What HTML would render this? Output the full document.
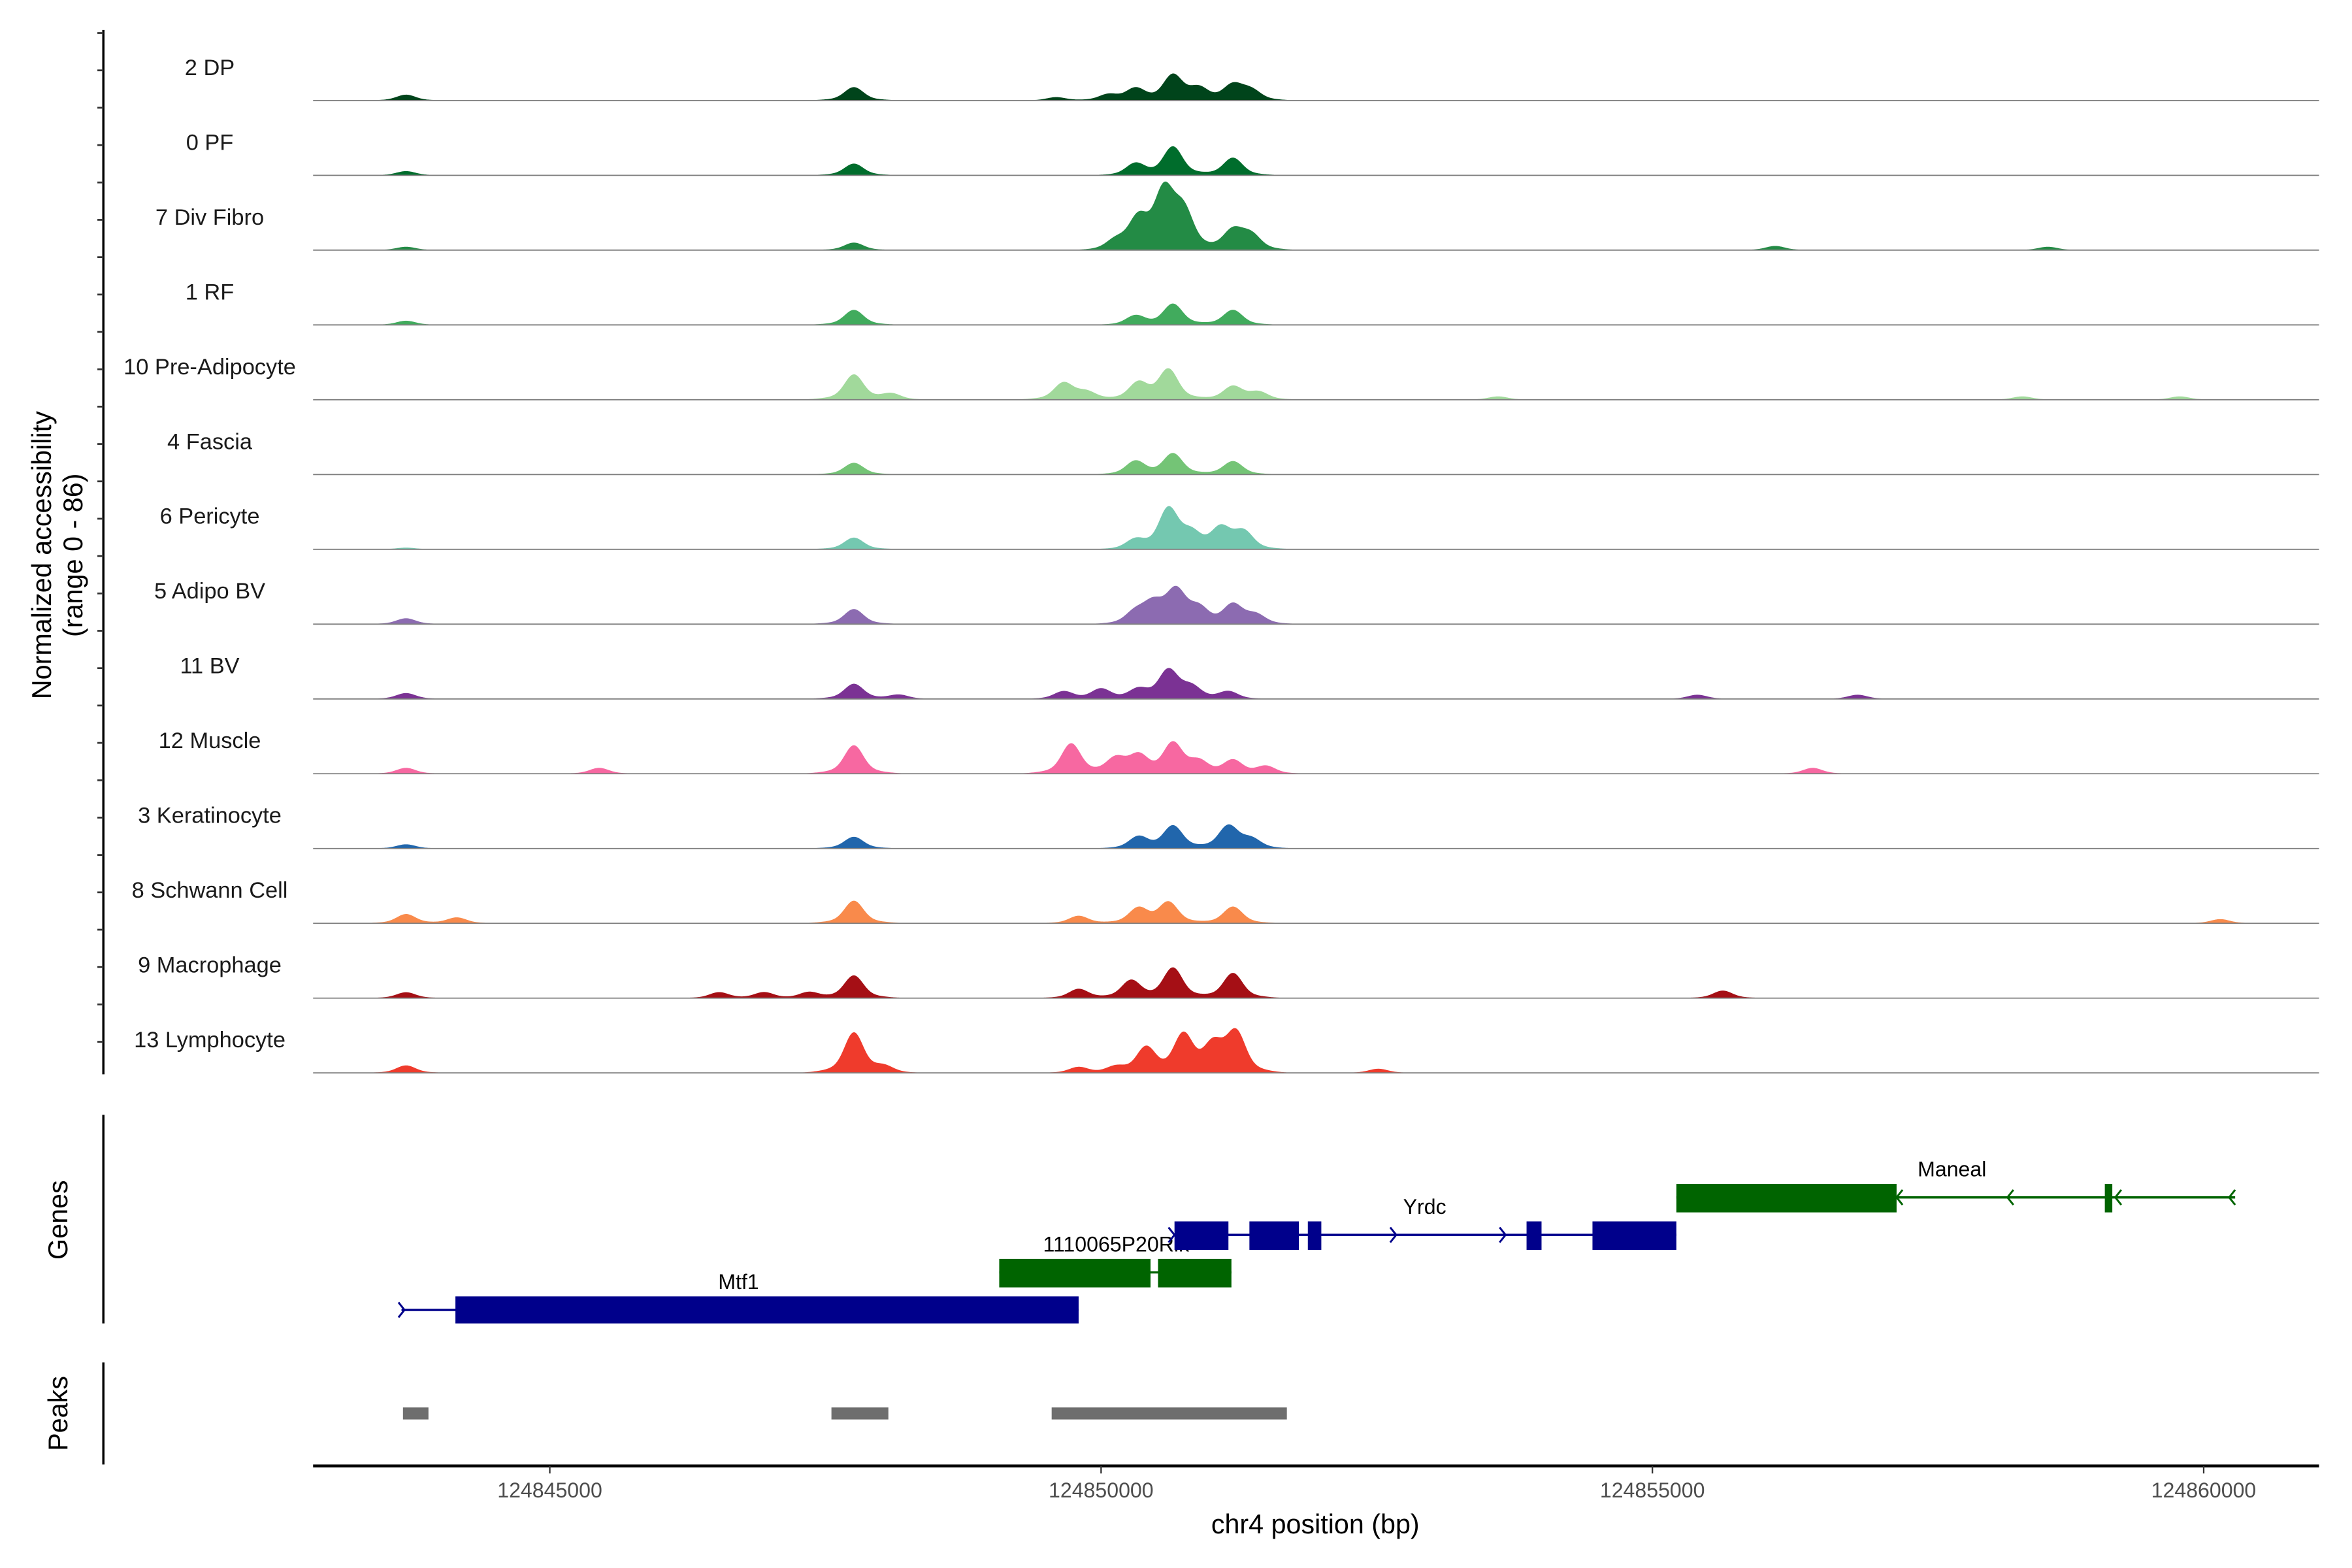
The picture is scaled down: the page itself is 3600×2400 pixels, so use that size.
<!DOCTYPE html>
<html><head><meta charset="utf-8">
<style>
html,body{margin:0;padding:0;background:#fff;}
svg{display:block;font-family:"Liberation Sans",Arial,sans-serif;}
</style></head>
<body>
<svg id="chart" width="3600" height="2400" viewBox="0 0 1570 1045" preserveAspectRatio="none" xmlns="http://www.w3.org/2000/svg">
  <g id="tracks"></g>
  <g id="genes"></g>
  <g id="peaks"></g>
  <g id="axes"></g>
</svg>
<script>
const NS="http://www.w3.org/2000/svg";
const trackNames=["2 DP","0 PF","7 Div Fibro","1 RF","10 Pre-Adipocyte","4 Fascia","6 Pericyte","5 Adipo BV","11 BV","12 Muscle","3 Keratinocyte","8 Schwann Cell","9 Macrophage","13 Lymphocyte"];
const trackColors=["#00441b","#006d2c","#238b45","#41ab5d","#a1d99b","#74c476","#74c8b0","#8c6bb1","#7b3294","#f768a1","#2166ac","#f98a4b","#a50f15","#ef3b2c"];
const peakPos=[
 [124843696,124847758,124849592,124850068,124850312,124850652,124850883,124851196,124851359],
 [124843696,124847758,124850312,124850652,124851196],
 [124843696,124847758,124850136,124850340,124850571,124850747,124851196,124851359,124856114,124858587],
 [124843696,124847758,124850312,124850652,124851196],
 [124847758,124848098,124849660,124849864,124850340,124850611,124851196,124851427,124853601,124858356,124859783],
 [124847758,124850312,124850652,124851196],
 [124843696,124847758,124850312,124850611,124850815,124851087,124851291],
 [124843696,124847758,124850312,124850476,124850679,124850883,124851196,124851400],
 [124843696,124847758,124848166,124849660,124850000,124850340,124850611,124850815,124851155,124855408,124856861],
 [124843696,124847758,124845448,124849728,124850136,124850340,124850652,124850883,124851196,124851495,124856454],
 [124843696,124847758,124850340,124850652,124851155,124851359],
 [124843696,124847758,124844158,124849796,124850340,124850611,124851196,124860150],
 [124843696,124847758,124846535,124846943,124847351,124849796,124850272,124850652,124851196,124855639],
 [124843696,124847758,124848030,124849796,124850136,124850408,124850747,124851019,124851223,124852514]
];
const peakVal=[
 [7,16,4,7,14,30,14,18,12],
 [5,14,14,34,21],
 [4,9,11,36,68,45,23,18,5,4],
 [5,18,11,25,18],
 [30,7,20,9,20,36,16,9,4,4,4],
 [14,16,25,16],
 [2,14,11,48,18,25,21],
 [7,18,14,23,39,18,23,11],
 [7,18,5,9,12,11,34,14,9,5,5],
 [7,34,7,36,18,21,36,14,16,9,7],
 [5,14,14,27,27,11],
 [11,27,7,9,18,25,20,5],
 [7,27,7,7,7,11,21,36,30,9],
 [9,48,7,7,7,30,45,32,48,5]
];
const tickVals=[124845000,124850000,124855000,124860000];
const tickLabels=["124845000","124850000","124855000","124860000"];
const X0=209,X1=1548;
function xs(bp){return 367+(bp-124845000)*368/5000;}
function mk(tag,attrs,parent,text){const e=document.createElementNS(NS,tag);for(const k in attrs)e.setAttribute(k,attrs[k]);if(text!==undefined)e.textContent=text;parent.appendChild(e);return e;}
const gT=document.getElementById('tracks');
const SIG=80, H=48/86;
trackNames.forEach((name,i)=>{
  const base=67+i*49.85;
  const g=mk('g',{},gT);
  
  
  const lab=mk('text',{x:140,y:base-17,'font-size':15,'text-anchor':'middle',fill:'#1a1a1a'},g,name);
  
  
  let d='M'+X0+','+base;
  for(let x=X0;x<=X1;x+=0.5){
    const bp=124845000+(x-367)*5000/368;
    let v=0;
    peakPos[i].forEach((p,k)=>{const z=(bp-p)/SIG;v+=peakVal[i][k]*(0.8*Math.exp(-0.5*z*z)+0.2*Math.exp(-0.5*z*z/6));});
    if(v<0.3)v=0;
    d+=' L'+x.toFixed(1)+','+(base-v*H).toFixed(2);
  }
  d+=' L'+X1+','+base+' Z';
  const a=mk('path',{d:d,fill:trackColors[i]},g);
  
  
  const bl=mk('line',{x1:X0,x2:X1,y1:base,y2:base,stroke:'#7f7f7f','stroke-width':0.8},g);
  
  
});
const gG=document.getElementById('genes');
const NAVY="#00008b",GRN="#006400";
function line(x1,x2,y,c,g){mk('line',{x1:x1,x2:x2,y1:y,y2:y,stroke:c,'stroke-width':1.5},g);}
function box(x1,x2,y1,y2,c,g){mk('rect',{x:x1,y:y1,width:x2-x1,height:y2-y1,fill:c},g);}
function arrow(x,y,dir,c,g){mk('path',{d:`M${x-4*dir},${y-5} L${x},${y} L${x-4*dir},${y+5}`,fill:'none',stroke:c,'stroke-width':1.3},g);}
let gm=mk('g',{},gG);
line(268,720,873,NAVY,gm);box(304,720,864,882,NAVY,gm);arrow(270,873,1,NAVY,gm);
mk('text',{x:493,y:859,'font-size':14,'text-anchor':'middle'},gm,'Mtf1');
let gr=mk('g',{},gG);
line(667,822,848,GRN,gr);box(667,768,839,858,GRN,gr);box(773,822,839,858,GRN,gr);
mk('text',{x:745,y:834,'font-size':14,'text-anchor':'middle'},gr,'1110065P20Rik');
let gy=mk('g',{},gG);
line(783,1119,823,NAVY,gy);
[[784,820],[834,867],[873,882],[1019,1029],[1063,1119]].forEach(b=>box(b[0],b[1],814,833,NAVY,gy));
arrow(932,823,1,NAVY,gy);arrow(1005,823,1,NAVY,gy);arrow(784,823,1,NAVY,gy);
mk('text',{x:951,y:809,'font-size':14,'text-anchor':'middle'},gy,'Yrdc');
let gn=mk('g',{},gG);
line(1119,1492,798,GRN,gn);box(1119,1266,789,808,GRN,gn);box(1405,1410,789,808,GRN,gn);
[1266,1340,1412,1488].forEach(x=>arrow(x,798,-1,GRN,gn));
mk('text',{x:1303,y:784,'font-size':14,'text-anchor':'middle'},gn,'Maneal');
const gP=document.getElementById('peaks');
[[269,286],[555,593],[702,859]].forEach(p=>{const r=mk('rect',{x:p[0],y:938,width:p[1]-p[0],height:8,fill:'#6e6e6e'},gP);});
const gA=document.getElementById('axes');
mk('line',{x1:69,x2:69,y1:20,y2:716,stroke:'#000','stroke-width':1.5},gA);
for(let y=22;y<=716;y+=24.9)mk('line',{x1:65,x2:69,y1:y,y2:y,stroke:'#333','stroke-width':1.2},gA);
mk('line',{x1:69,x2:69,y1:743,y2:882,stroke:'#000','stroke-width':1.5},gA);
mk('line',{x1:69,x2:69,y1:908,y2:976,stroke:'#000','stroke-width':1.5},gA);
const yt=mk('text',{transform:'translate(34,370) rotate(-90)','font-size':18,'text-anchor':'middle'},gA,'Normalized accessibility');

mk('text',{transform:'translate(55,370) rotate(-90)','font-size':18,'text-anchor':'middle'},gA,'(range 0 - 86)');
const gl=mk('text',{transform:'translate(45,813) rotate(-90)','font-size':18,'text-anchor':'middle'},gA,'Genes');

const pl=mk('text',{transform:'translate(45,942) rotate(-90)','font-size':18,'text-anchor':'middle'},gA,'Peaks');

const xa=mk('line',{x1:209,x2:1548,y1:977,y2:977,stroke:'#000','stroke-width':2},gA);

tickVals.forEach((v,i)=>{
  const x=xs(v);
  mk('line',{x1:x,x2:x,y1:977,y2:982,stroke:'#333','stroke-width':1},gA);
  const t=mk('text',{x:x,y:998,'font-size':14,'text-anchor':'middle',fill:'#4d4d4d'},gA,tickLabels[i]);
  
  
});
const xt=mk('text',{x:878,y:1022,'font-size':18,'text-anchor':'middle'},gA,'chr4 position (bp)');

</script>
</body></html>
